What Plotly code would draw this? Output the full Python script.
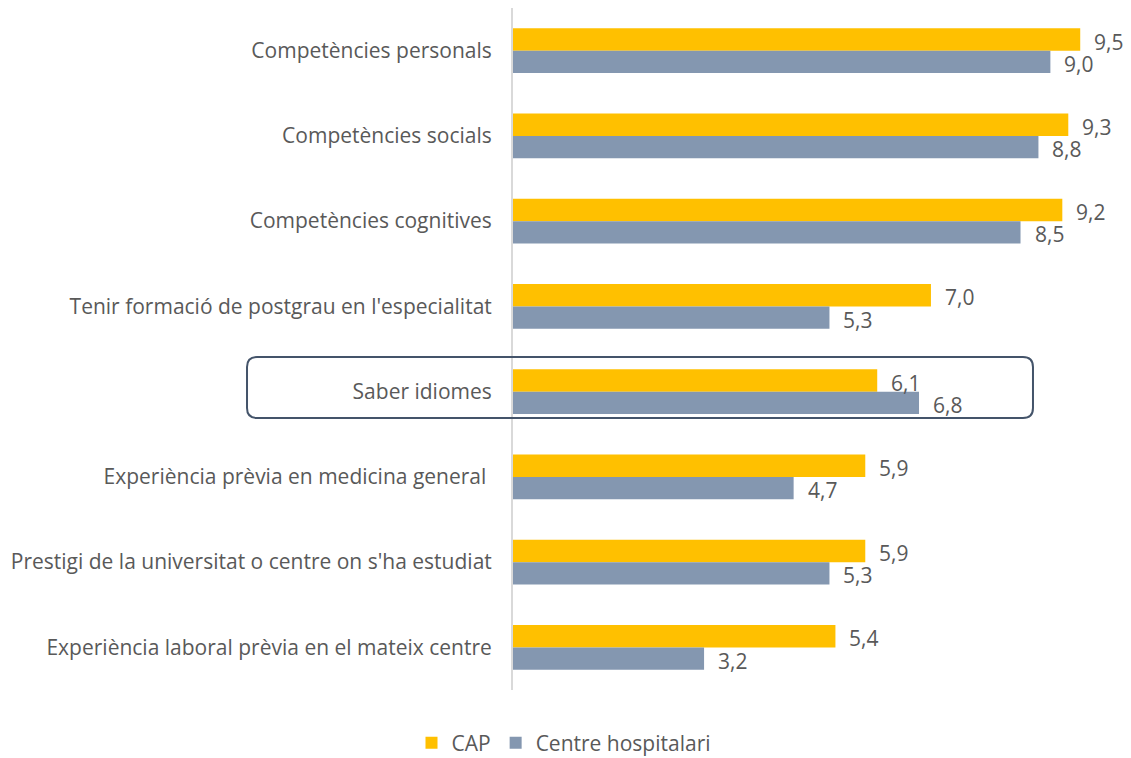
import plotly.graph_objects as go

categories = [
    "Competències personals",
    "Competències socials",
    "Competències cognitives",
    "Tenir formació de postgrau en l'especialitat",
    "Saber idiomes",
    "Experiència prèvia en medicina general ",
    "Prestigi de la universitat o centre on s'ha estudiat",
    "Experiència laboral prèvia en el mateix centre",
]
cap = [9.5, 9.3, 9.2, 7.0, 6.1, 5.9, 5.9, 5.4]
hosp = [9.0, 8.8, 8.5, 5.3, 6.8, 4.7, 5.3, 3.2]
series_names = ["CAP", "Centre hospitalari"]
colors = ["#FFC000", "#8497B0"]
text_color = "#595959"
FONT = "Open Sans"

fig = go.Figure()
for name, vals, col in zip(series_names, [cap, hosp], colors):
    fig.add_trace(go.Bar(
        y=categories, x=vals, orientation="h", name=name,
        marker=dict(color=col, line=dict(width=0)),
        hoverinfo="skip",
    ))

bargap = 0.478
half = (1 - bargap) / 4
annotations = []
for vals, off in [(cap, -half), (hosp, half)]:
    for i, v in enumerate(vals):
        annotations.append(dict(
            x=v, y=i + off, xref="x", yref="y",
            text=f"{v:.1f}".replace(".", ","),
            showarrow=False, xanchor="left", yanchor="middle",
            xshift=12, yshift=-2,
            font=dict(family=FONT, size=21, color=text_color),
        ))

# rounded rectangle highlighting "Saber idiomes" (paper coordinates)
x0, x1 = -0.4325, 0.8455
y0, y1 = 0.3988, 0.4883
rx, ry = 0.0163, 0.0147
path = (f"M {x0+rx},{y0} L {x1-rx},{y0} Q {x1},{y0} {x1},{y0+ry} "
        f"L {x1},{y1-ry} Q {x1},{y1} {x1-rx},{y1} "
        f"L {x0+rx},{y1} Q {x0},{y1} {x0},{y1-ry} "
        f"L {x0},{y0+ry} Q {x0},{y0} {x0+rx},{y0} Z")

W, H = 1123, 750
fig.update_layout(
    width=W, height=H,
    margin=dict(l=505, r=3, t=0, b=68),
    plot_bgcolor="white", paper_bgcolor="white",
    barmode="group", bargap=bargap, bargroupgap=0,
    font=dict(family=FONT, size=21, color=text_color),
    xaxis=dict(range=[0, 10.3], showgrid=False, zeroline=False,
               showticklabels=False, showline=False, fixedrange=True,
               automargin=False),
    yaxis=dict(autorange="reversed", showgrid=False, zeroline=False,
               showline=True, linecolor="#D9D9D9", linewidth=2,
               ticks="", ticklabelstandoff=15, automargin=False,
               tickfont=dict(family=FONT, size=21, color=text_color)),
    legend=dict(orientation="h", xref="container", yref="container",
                x=556 / W, xanchor="center", y=(H - 735) / H,
                yanchor="middle", font=dict(family=FONT, size=21, color=text_color),
                itemwidth=30, traceorder="normal"),
    annotations=annotations,
    shapes=[dict(type="path", path=path, xref="paper", yref="paper",
                 line=dict(color="#44546A", width=2), layer="above")],
    showlegend=True,
)

fig.write_html("out.html")
